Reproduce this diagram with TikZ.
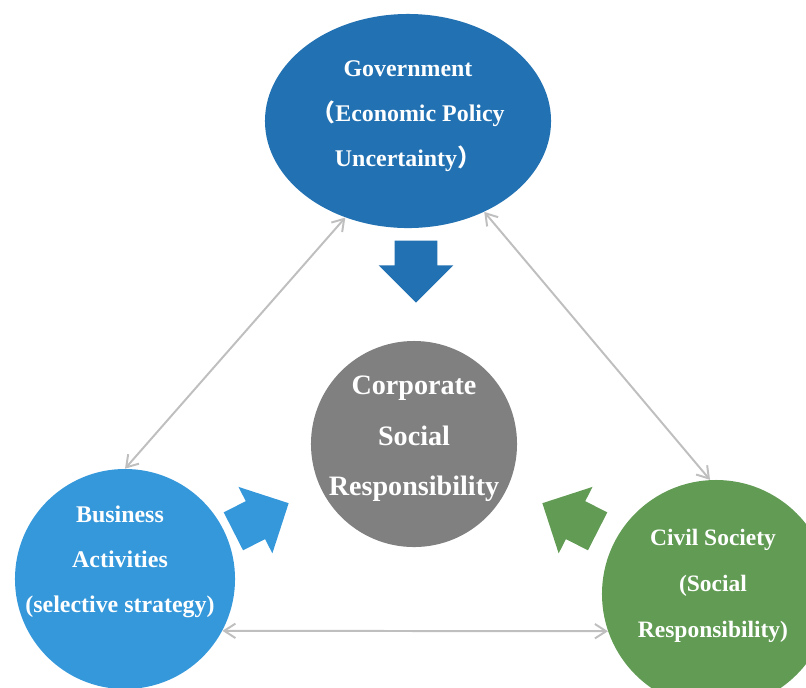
\documentclass[tikz,border=0pt]{standalone}
\usepackage{fontspec}
\setmainfont{Liberation Serif}
\newfontfamily\cjk{Noto Sans CJK SC}
\usetikzlibrary{shapes.geometric,shapes.arrows,arrows.meta}

\definecolor{govblue}{RGB}{34,113,178}
\definecolor{bizblue}{RGB}{53,152,219}
\definecolor{civgreen}{RGB}{98,156,84}
\definecolor{csrgray}{RGB}{128,128,128}
\definecolor{linkgray}{RGB}{191,191,191}

\begin{document}
\begin{tikzpicture}[
    x=0.025cm, y=-0.025cm,
    actor/.style = {circle, inner sep=0pt},
    caption/.style = {align=center, text=white, font=\bfseries\fontsize{17}{32}\selectfont},
    push/.style = {single arrow, draw=none, inner xsep=0pt, inner ysep=0.525cm, single arrow head extend=0.4cm, minimum height=1.55cm, anchor=tip},
    link/.style = {{Straight Barb[length=2.8mm,width=3.6mm]}-{Straight Barb[length=2.8mm,width=3.6mm]}, draw=linkgray, line width=1.4pt}
]
\useasboundingbox (0,0) rectangle (806,687);
\clip (0,0) rectangle (806,687);

% the four parties
\node[ellipse, fill=govblue, minimum width=7.15cm, minimum height=5.35cm, inner sep=0pt] (gov) at (408,121) {};
\node[actor, fill=csrgray, minimum size=5.15cm] (csr) at (414,444) {};
\node[actor, fill=bizblue, minimum size=5.5cm] (biz) at (125,579) {};
\node[actor, fill=civgreen, minimum size=5.7cm] (civ) at (716,594) {};

\node[caption] (govtext) at (408,116) {Government\\{\cjk （}Economic Policy\\Uncertainty{\cjk ）}};
\node[caption, font=\bfseries\fontsize{20}{36}\selectfont] (csrtext) at (414,439) {Corporate\\Social\\Responsibility};
\node[caption] (biztext) at (120,562) {Business\\Activities\\(selective strategy)};
\node[caption, font=\bfseries\fontsize{16.7}{32.5}\selectfont] (civtext) at (713,586) {Civil Society\\(Social\\Responsibility)};

% two-way links between the outer parties
\draw[link] (biz.north) -- (gov.237);
\draw[link] (gov.310) -- (civ.93);
\draw[link] (biz.-28) -- (civ.199);

% block arrows into the centre
\node[push, fill=govblue, rotate=-90] (govpush) at (416,303) {};
\node[push, fill=bizblue, rotate=27] (bizpush) at (289,503) {};
\node[push, fill=civgreen, rotate=153] (civpush) at (542,503) {};

\end{tikzpicture}
\end{document}
